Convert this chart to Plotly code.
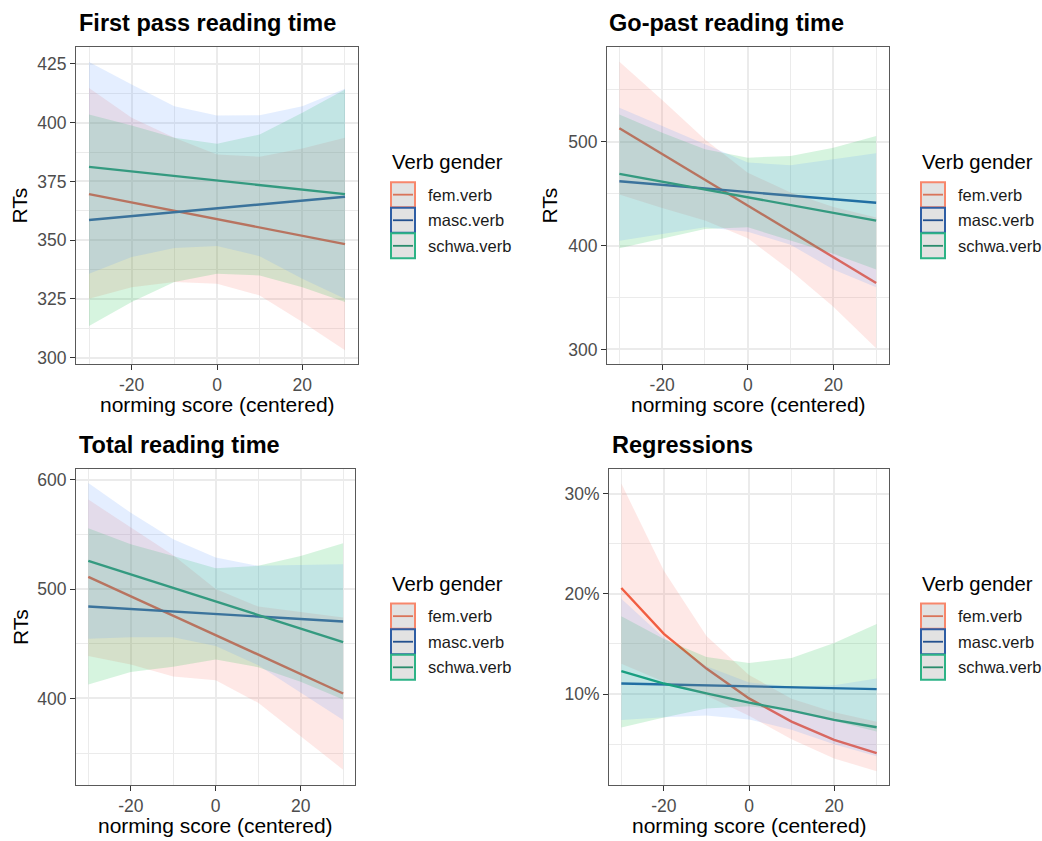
import plotly.graph_objects as go

W, H = 1042, 841
FONT = "Liberation Sans, Arial, Helvetica, sans-serif"

# ---------------- data ----------------
x_vals = [-30, -20, -10, 0, 10, 20, 30]
x_tickvals = [-20, 0, 20]
x_ticktext = ["-20", "0", "20"]
x_minorvals = [-30, -10, 10, 30]
groups = ["fem.verb", "masc.verb", "schwa.verb"]

# First pass reading time
fp_fem = [369.6, 366.1, 362.5, 359.0, 355.4, 351.9, 348.3]
fp_fem_lo = [325.1, 330.0, 332.2, 331.5, 326.5, 315.2, 303.2]
fp_fem_hi = [414.8, 402.1, 393.6, 386.5, 385.5, 389.0, 393.6]
fp_masc = [358.6, 360.3, 361.9, 363.6, 365.2, 366.9, 368.5]
fp_masc_lo = [313.5, 323.7, 332.2, 335.7, 335.0, 330.0, 323.7]
fp_masc_hi = [403.5, 398.8, 393.6, 391.0, 395.0, 404.2, 414.1]
fp_schwa = [381.2, 379.3, 377.3, 375.4, 373.5, 371.5, 369.6]
fp_schwa_lo = [335.7, 342.8, 346.7, 347.5, 343.2, 333.6, 325.1]
fp_schwa_hi = [425.8, 416.2, 407.0, 403.1, 403.2, 407.0, 414.4]

# Go-past reading time
gp_fem = [512.8, 488.0, 463.2, 438.4, 413.6, 388.8, 364.0]
gp_fem_lo = [449.0, 436.0, 424.0, 407.0, 376.0, 341.0, 301.0]
gp_fem_hi = [577.0, 540.0, 502.0, 470.0, 451.0, 437.0, 427.0]
gp_masc = [461.9, 458.4, 455.0, 451.5, 448.0, 444.6, 441.1]
gp_masc_lo = [397.3, 406.9, 415.9, 417.5, 405.0, 392.0, 376.8]
gp_masc_hi = [526.2, 508.6, 492.6, 484.6, 486.2, 494.2, 505.4]
gp_schwa = [469.0, 461.5, 454.0, 446.5, 439.0, 431.4, 423.9]
gp_schwa_lo = [404.7, 411.0, 417.5, 413.2, 400.7, 377.0, 359.9]
gp_schwa_hi = [532.6, 515.0, 497.4, 479.8, 477.3, 483.0, 488.8]

# Total reading time
tr_fem = [511.2, 493.4, 475.6, 457.9, 440.1, 422.3, 404.5]
tr_fem_lo = [438.8, 431.0, 420.0, 416.7, 396.0, 365.2, 334.8]
tr_fem_hi = [581.8, 556.0, 531.0, 500.0, 484.0, 479.0, 474.0]
tr_masc = [484.0, 481.7, 479.4, 477.2, 474.9, 472.6, 470.3]
tr_masc_lo = [412.7, 424.2, 429.0, 435.5, 428.5, 415.2, 399.0]
tr_masc_hi = [555.5, 540.9, 530.3, 519.1, 521.2, 530.3, 541.8]
tr_schwa = [525.8, 513.4, 501.0, 488.7, 476.3, 463.9, 451.5]
tr_schwa_lo = [454.5, 456.0, 456.0, 448.0, 430.3, 405.5, 380.3]
tr_schwa_hi = [597.0, 569.7, 545.5, 528.8, 521.2, 522.1, 522.7]

# Regressions (proportions)
rg_fem = [0.2058, 0.1601, 0.1254, 0.0957, 0.0725, 0.0543, 0.0411]
rg_fem_lo = [0.1303, 0.1123, 0.0986, 0.0783, 0.0548, 0.0357, 0.0230]
rg_fem_hi = [0.3100, 0.2230, 0.1580, 0.1190, 0.0954, 0.0819, 0.0724]
rg_masc = [0.1105, 0.1096, 0.1086, 0.1077, 0.1068, 0.1058, 0.1049]
rg_masc_lo = [0.0667, 0.0766, 0.0856, 0.0879, 0.0831, 0.0730, 0.0627]
rg_masc_hi = [0.1777, 0.1550, 0.1370, 0.1310, 0.1360, 0.1510, 0.1700]
rg_schwa = [0.1228, 0.1105, 0.1006, 0.0914, 0.0834, 0.0742, 0.0669]
rg_schwa_lo = [0.0741, 0.0769, 0.0787, 0.0747, 0.0643, 0.0500, 0.0380]
rg_schwa_hi = [0.1950, 0.1563, 0.1278, 0.1114, 0.1075, 0.1087, 0.1155]

panel_titles = ["First pass reading time", "Go-past reading time",
                "Total reading time", "Regressions"]
x_title = "norming score (centered)"
y_title = "RTs"
legend_title = "Verb gender"

# ---------------- styles ----------------
line_colors = {"fem.verb": "#F05A3A", "masc.verb": "#1A58A2", "schwa.verb": "#0E9C72"}
ribbon_fills = {"fem.verb": "rgba(248,118,109,0.17)",
                "masc.verb": "rgba(0,186,56,0.16)",
                "schwa.verb": "rgba(97,156,255,0.17)"}
key_border = {"fem.verb": "#F7876C", "masc.verb": "#2F5EA4", "schwa.verb": "#2DB386"}
key_line = {"fem.verb": "#D9745A", "masc.verb": "#23508E", "schwa.verb": "#2A8C6C"}

panels = [
    dict(data={"fem.verb": (fp_fem, fp_fem_lo, fp_fem_hi),
               "masc.verb": (fp_masc, fp_masc_lo, fp_masc_hi),
               "schwa.verb": (fp_schwa, fp_schwa_lo, fp_schwa_hi)},
         px=(76, 358), py=(47, 366), xr=[-33.05, 33.05], yr=[297.2, 432.3],
         dtick=25, minor=12.5, fmt="", ytitle=True, leg=(391, 163),
         title_pos=(77, 23), ytitle_x=20),
    dict(data={"fem.verb": (gp_fem, gp_fem_lo, gp_fem_hi),
               "masc.verb": (gp_masc, gp_masc_lo, gp_masc_hi),
               "schwa.verb": (gp_schwa, gp_schwa_lo, gp_schwa_hi)},
         px=(607, 889), py=(47, 366), xr=[-32.9, 33.0], yr=[285.7, 591.3],
         dtick=100, minor=50, fmt="", ytitle=True, leg=(921, 163),
         title_pos=(607, 23), ytitle_x=550),
    dict(data={"fem.verb": (tr_fem, tr_fem_lo, tr_fem_hi),
               "masc.verb": (tr_masc, tr_masc_lo, tr_masc_hi),
               "schwa.verb": (tr_schwa, tr_schwa_lo, tr_schwa_hi)},
         px=(76, 355), py=(471, 789), xr=[-32.9, 32.8], yr=[320.6, 610.0],
         dtick=100, minor=50, fmt="", ytitle=True, leg=(391, 586.5),
         title_pos=(77, 447), ytitle_x=20),
    dict(data={"fem.verb": (rg_fem, rg_fem_lo, rg_fem_hi),
               "masc.verb": (rg_masc, rg_masc_lo, rg_masc_hi),
               "schwa.verb": (rg_schwa, rg_schwa_lo, rg_schwa_hi)},
         px=(609, 889), py=(471, 789), xr=[-32.9, 32.9], yr=[0.009, 0.3248],
         dtick=0.1, minor=0.05, fmt=".0%", ytitle=False, leg=(921, 586.5),
         title_pos=(610, 447), ytitle_x=None),
]


def fx(p):
    return p / W


def fy(p):
    return 1 - p / H


fig = go.Figure()
annotations = []
shapes = []

for i, pan in enumerate(panels):
    n = "" if i == 0 else str(i + 1)
    xa, ya = "x" + n, "y" + n
    # lines first (ribbons drawn over them, as in the original)
    for g in groups:
        mid, lo, hi = pan["data"][g]
        fig.add_trace(go.Scatter(x=x_vals, y=mid, mode="lines", xaxis=xa, yaxis=ya,
                                 line=dict(color=line_colors[g], width=2.4),
                                 showlegend=False, hoverinfo="skip"))
    for g in groups:
        mid, lo, hi = pan["data"][g]
        fig.add_trace(go.Scatter(x=x_vals + x_vals[::-1], y=hi + lo[::-1],
                                 xaxis=xa, yaxis=ya, mode="lines", fill="toself",
                                 fillcolor=ribbon_fills[g], line=dict(width=0),
                                 showlegend=False, hoverinfo="skip"))

    common = dict(showline=True, mirror=True, linecolor="#595959", linewidth=1,
                  ticks="outside", ticklen=5, tickwidth=1, tickcolor="#333333",
                  tickfont=dict(family=FONT, size=17.5, color="#4D4D4D"),
                  showgrid=True, gridcolor="#EBEBEB", gridwidth=1.8, zeroline=False)
    fig.update_layout(**{
        "xaxis" + n: dict(domain=[fx(pan["px"][0]), fx(pan["px"][1])], range=pan["xr"],
                          anchor=ya, tickmode="array", tickvals=x_tickvals,
                          ticktext=x_ticktext,
                          minor=dict(tickmode="array", tickvals=x_minorvals, showgrid=True,
                                     gridcolor="#EBEBEB", gridwidth=0.9, ticks=""),
                          **common),
        "yaxis" + n: dict(domain=[fy(pan["py"][1]), fy(pan["py"][0])], range=pan["yr"],
                          anchor=xa, tick0=0, dtick=pan["dtick"], tickformat=pan["fmt"],
                          minor=dict(dtick=pan["minor"], tick0=0, showgrid=True,
                                     gridcolor="#EBEBEB", gridwidth=0.9, ticks=""),
                          **common),
    })

    # panel title
    tx, ty = pan["title_pos"]
    annotations.append(dict(text="<b>" + panel_titles[i] + "</b>", x=fx(tx), y=fy(ty),
                            xref="paper", yref="paper", xanchor="left", yanchor="middle",
                            showarrow=False, font=dict(family=FONT, size=23.5, color="black")))
    # x axis title
    cx = (pan["px"][0] + pan["px"][1]) / 2
    annotations.append(dict(text=x_title, x=fx(cx), y=fy(pan["py"][1] + 40.5),
                            xref="paper", yref="paper", xanchor="center", yanchor="middle",
                            showarrow=False, font=dict(family=FONT, size=21, color="black")))
    # y axis title
    if pan["ytitle"]:
        cy = (pan["py"][0] + pan["py"][1]) / 2
        annotations.append(dict(text=y_title, x=fx(pan["ytitle_x"]), y=fy(cy), textangle=-90,
                                xref="paper", yref="paper", xanchor="center", yanchor="middle",
                                showarrow=False, font=dict(family=FONT, size=21, color="black")))
    # legend
    lx, ly = pan["leg"]
    annotations.append(dict(text=legend_title, x=fx(lx - 1), y=fy(ly),
                            xref="paper", yref="paper", xanchor="left", yanchor="middle",
                            showarrow=False, font=dict(family=FONT, size=20.3, color="black")))
    for k, g in enumerate(groups):
        top = ly + 20 + 25.7 * k
        bot = top + 25.2
        shapes.append(dict(type="rect", xref="paper", yref="paper",
                           x0=fx(lx), x1=fx(lx + 24), y0=fy(bot), y1=fy(top),
                           fillcolor="#E2E2E2", line=dict(color=key_border[g], width=2)))
        ym = (top + bot) / 2
        shapes.append(dict(type="line", xref="paper", yref="paper",
                           x0=fx(lx + 2), x1=fx(lx + 22), y0=fy(ym), y1=fy(ym),
                           line=dict(color=key_line[g], width=1.8)))
        annotations.append(dict(text=g, x=fx(lx + 35), y=fy(ym),
                                xref="paper", yref="paper", xanchor="left", yanchor="middle",
                                showarrow=False,
                                font=dict(family=FONT, size=16.5, color="#1A1A1A")))

fig.update_layout(width=W, height=H, margin=dict(l=0, r=0, t=0, b=0),
                  paper_bgcolor="white", plot_bgcolor="white", showlegend=False,
                  annotations=annotations, shapes=shapes,
                  font=dict(family=FONT))

fig.write_html("out.html", config={"displayModeBar": False},
               post_script="document.body.style.margin='0';"
                           "document.body.style.overflow='hidden';")
